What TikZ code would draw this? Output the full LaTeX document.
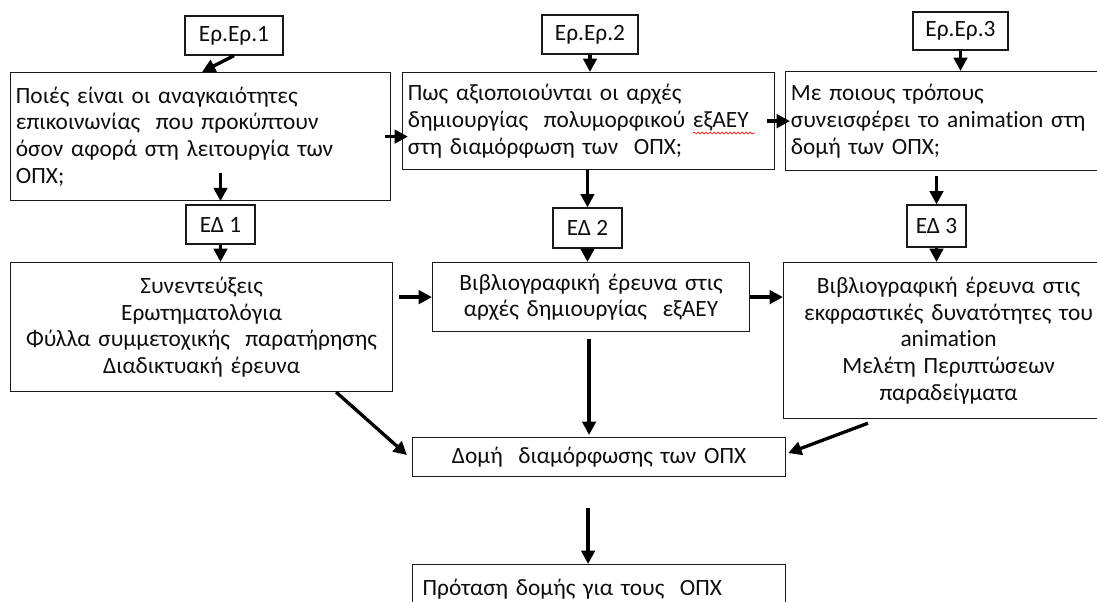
\documentclass[tikz,border=0pt]{standalone}
\usepackage{fontspec}
\setmainfont{Carlito}[Ligatures=NoCommon]
\usepackage{tikz}
\usetikzlibrary{positioning,calc,arrows.meta,decorations.pathmorphing}

\tikzset{
    box/.style={draw=black!90, line width=0.9pt, anchor=north west, inner xsep=4pt, inner ysep=0pt, text=black!95, font=\fontsize{17.5}{20}\selectfont},
    qbox/.style={box, align=left},
    mbox/.style={box, align=center},
    tag/.style={draw=black!90, line width=0.9pt, inner sep=0pt, text=black!95, font=\fontsize{17.5}{20}\selectfont},
    arr/.style={line width=2.5pt, -{Triangle[length=10pt,width=10pt]}}
}

\begin{document}
\begin{tikzpicture}[x=0.75pt, y=-0.75pt]
    \useasboundingbox (0,0) rectangle (1097,601);
    \clip (0,0) rectangle (1097,601);

    % Research questions
    \node (ep1) at (234,35.5) [tag, minimum width=73.5pt, minimum height=29.25pt] {Ερ.Ερ.1};
    \node (ep2) at (590,34.5) [tag, minimum width=72pt, minimum height=29.25pt] {Ερ.Ερ.2};
    \node (ep3) at (960.5,31) [tag, minimum width=71.25pt, minimum height=28.5pt] {Ερ.Ερ.3};

    \node (q1) at (10,72) [qbox, text width=277pt, minimum height=96pt] {Ποιές είναι οι αναγκαιότητες\\ επικοινωνίας\ \ που προκύπτουν\\ όσον αφορά στη λειτουργία των\\ ΟΠΧ;};
    \node (q2) at (402,72) [qbox, text width=271pt, minimum height=72.75pt] {Πως αξιοποιούνται οι αρχές\\ δημιουργίας\ \ πολυμορφικού εξΑΕΥ\\ στη διαμόρφωση των\ \ ΟΠΧ;};
    \node (q3) at (785,71) [qbox, text width=239.5pt, minimum height=74.25pt] {Με ποιους τρόπους\\ συνεισφέρει το animation στη\\ δομή των ΟΠΧ;};
    \draw [red, line width=0.5pt, decorate, decoration={snake, amplitude=0.7pt, segment length=3pt}] ($(q2.north west)+(291,61)$) -- ++(62,0);

    % Research axes
    \node (ed1) at (220.5,224.5) [tag, minimum width=51.75pt, minimum height=29.25pt] {ΕΔ 1};
    \node (ed2) at (587.5,228) [tag, minimum width=51.75pt, minimum height=30pt] {ΕΔ 2};
    \node (ed3) at (936.5,226) [tag, minimum width=44.25pt, minimum height=31.5pt] {ΕΔ 3};

    % Methods
    \node (m1) at (10,262) [mbox, text width=278.5pt, minimum height=96.75pt] {Συνεντεύξεις\\ Ερωτηματολόγια\\ Φύλλα συμμετοχικής\ \ παρατήρησης\\ Διαδικτυακή έρευνα};
    \node (m2) at (432,262) [mbox, text width=229.75pt, minimum height=51.75pt] {Βιβλιογραφική έρευνα στις\\ αρχές δημιουργίας\ \ εξΑΕΥ};
    \node (m3) at (783,262) [mbox, text width=239.5pt, minimum height=117pt] {Βιβλιογραφική έρευνα στις\\ εκφραστικές δυνατότητες του\\ animation\\ Μελέτη Περιπτώσεων\\ παραδείγματα};

    % Structure
    \node (f1) at (412,437) [mbox, text width=271.75pt, minimum height=29.25pt] {Δομή\ \ διαμόρφωσης των ΟΠΧ};
    \node (f2) at (412,564) [qbox, text width=264.75pt, minimum height=37.5pt, inner xsep=7.5pt] {Πρόταση δομής για τους\ \ ΟΠΧ};

    % Arrows
    \draw [arr] (ep1.south) -- ($(q1.north west)+(192,0)$);
    \draw [arr] (ep2.south) -- (ep2.south |- q2.north);
    \draw [arr] (ep3.south) -- (ep3.south |- q3.north);
    \draw [arr] ($(q1.east)+(-6,0)$) -- ($(q1.east -| q2.west)+(6,0)$);
    \draw [arr] ($(q2.east)+(-8,0)$) -- ($(q2.east -| q3.west)+(5,0)$);

    \draw [arr] ($(q1.south -| ed1.north)+(0,-28)$) -- (q1.south -| ed1.north);
    \draw [arr] (q2.south -| ed2.north) -- (ed2.north);
    \draw [arr] ($(q3.south -| ed3.north)+(0,5)$) -- (ed3.north);
    \draw [arr] (ed1.south) -- (ed1.south |- m1.north);
    \draw [arr] (ed2.south) -- (ed2.south |- m2.north);
    \draw [arr] (ed3.south) -- (ed3.south |- m3.north);

    \draw [arr] ($(m1.east |- m2.west)+(6,0)$) -- (m2.west);
    \draw [arr] (m2.east) -- (m2.east -| m3.west);
    \draw [arr] ($(m1.south east)+(-57,0)$) -- ($(f1.west)+(-5,-2)$);
    \draw [arr] ($(m2.south)+(-2,7)$) -- ($(m2.south |- f1.north)+(-2,-2)$);
    \draw [arr] ($(m3.south west)+(85,4)$) -- ($(f1.east)+(2,-4)$);
    \draw [arr] ($(f1.south -| m2.south)+(-3,31)$) -- ($(f2.north -| m2.south)+(-3,0)$);
\end{tikzpicture}
\end{document}
